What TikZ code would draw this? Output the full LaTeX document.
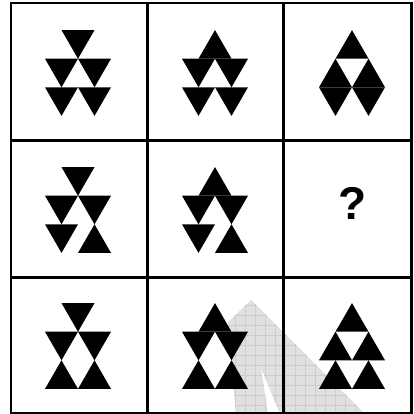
\documentclass[tikz,border=0pt]{standalone}
\usepackage{fontspec}
\setmainfont{Liberation Sans}
\newcommand\trid[2]{\fill (#1-16.5,#2) -- (#1+16.5,#2) -- (#1,#2+28.6) -- cycle;}
\newcommand\triu[2]{\fill (#1,#2) -- (#1+16.5,#2+28.6) -- (#1-16.5,#2+28.6) -- cycle;}
\begin{document}
\begin{tikzpicture}[x=1pt,y=-1pt,
  wmfill/.style={fill=black!12},
  wmgrid/.style={draw=black!20,line width=0.5pt},
  gridline/.style={draw=black,line width=2.8pt},
  qmark/.style={font=\bfseries\fontsize{46}{46}\selectfont,inner sep=0pt}]
\useasboundingbox (0,0) rectangle (413,414);
% watermark
\begin{scope}
  \clip (251,300) -- (365,414) -- (280,414) -- (261,368) -- (268,414) -- (236,414) -- (228,322) -- cycle;
  \fill[wmfill] (200,290) rectangle (380,414);
  \foreach \i in {205,215,...,375} {\draw[wmgrid] (\i,290) -- (\i,414);}
  \foreach \j in {295,305,...,414} {\draw[wmgrid] (200,\j) -- (380,\j);}
\end{scope}
% grid
\draw[gridline] (11,3) rectangle (411.5,413);
\draw[gridline] (147.3,3) -- (147.3,413);
\draw[gridline] (283.5,3) -- (283.5,413);
\draw[gridline] (11,140.5) -- (411.5,140.5);
\draw[gridline] (11,277.2) -- (411.5,277.2);
% row 1
\begin{scope}[shift={(78,73)}]
  \trid{0}{-42.9} \trid{-16.5}{-14.3} \trid{16.5}{-14.3} \trid{-16.5}{14.3} \trid{16.5}{14.3}
\end{scope}
\begin{scope}[shift={(215,73)}]
  \triu{0}{-42.9} \trid{-16.5}{-14.3} \trid{16.5}{-14.3} \trid{-16.5}{14.3} \trid{16.5}{14.3}
\end{scope}
\begin{scope}[shift={(352,73)}]
  \triu{0}{-42.9} \triu{-16.5}{-14.3} \triu{16.5}{-14.3} \trid{-16.5}{14.3} \trid{16.5}{14.3}
\end{scope}
% row 2
\begin{scope}[shift={(78,210)}]
  \trid{0}{-42.9} \trid{-16.5}{-14.3} \trid{16.5}{-14.3} \trid{-16.5}{14.3} \triu{16.5}{14.3}
\end{scope}
\begin{scope}[shift={(215,210)}]
  \triu{0}{-42.9} \trid{-16.5}{-14.3} \trid{16.5}{-14.3} \trid{-16.5}{14.3} \triu{16.5}{14.3}
\end{scope}
\node[qmark] (q) at (352.5,203) {?};
% row 3
\begin{scope}[shift={(78,346)}]
  \trid{0}{-42.9} \trid{-16.5}{-14.3} \trid{16.5}{-14.3} \triu{-16.5}{14.3} \triu{16.5}{14.3}
\end{scope}
\begin{scope}[shift={(215,346)}]
  \triu{0}{-42.9} \trid{-16.5}{-14.3} \trid{16.5}{-14.3} \triu{-16.5}{14.3} \triu{16.5}{14.3}
\end{scope}
\begin{scope}[shift={(352,346)}]
  \triu{0}{-42.9} \triu{-16.5}{-14.3} \triu{16.5}{-14.3} \triu{-16.5}{14.3} \triu{16.5}{14.3}
\end{scope}
\end{tikzpicture}
\end{document}
